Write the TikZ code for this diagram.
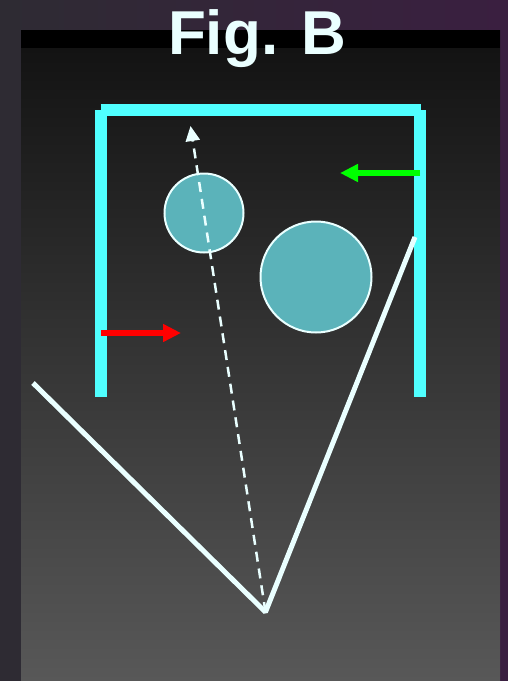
\documentclass[tikz,border=0pt]{standalone}
\usepackage{fontspec}
\setmainfont{Liberation Sans}
\usepackage{xcolor}
\usepackage{tikz}
\usetikzlibrary{arrows.meta}
\definecolor{bgPurple}{HTML}{3A1F40}
\definecolor{bgGrey}{HTML}{2E2B33}
\definecolor{panelTop}{HTML}{111111}
\definecolor{panelBot}{HTML}{585858}
\definecolor{wallCol}{HTML}{50FFFF}
\definecolor{ballFill}{HTML}{5BB3BA}
\definecolor{rayCol}{HTML}{EAFFFF}
\definecolor{pushRed}{HTML}{FF0000}
\definecolor{pushGreen}{HTML}{00FF00}

\begin{document}
\begin{tikzpicture}[
  x=1pt, y=-1pt,
  wall/.style={draw=wallCol, line width=12pt},
  ball/.style={circle, draw=rayCol, line width=2pt, fill=ballFill, inner sep=0pt},
  ray/.style={draw=rayCol, line width=5pt},
  traj/.style={draw=rayCol, line width=2.5pt, dash pattern=on 10pt off 7pt,
               -{Triangle[length=15pt,width=14pt]}},
  push/.style={line width=5.5pt, -{Triangle[length=18pt,width=17pt]}},
  title/.style={font=\fontsize{62}{62}\selectfont\bfseries, text=rayCol, anchor=base, inner sep=0pt},
]

% ---- Fondo ----
\useasboundingbox (0,0) rectangle (508,681);
\shade[left color=bgGrey, right color=bgPurple] (0,0) rectangle (508,681);
\shade[top color=panelTop, bottom color=panelBot] (21,30) rectangle (500,681);
\fill[black] (21,30) rectangle (500,48);

% ---- Titulo ----
\node[title] (titulo) at (257,54) {Fig. B};

% ---- Paredes ----
\coordinate (supIzq) at (101,110);
\coordinate (supDer) at (419.5,110);
\coordinate (infIzq) at (101,397);
\coordinate (infDer) at (419.5,397);
\draw[wall] ([xshift=-0.5pt]supIzq) -- ([xshift=1pt]supDer);
\draw[wall] (supIzq) -- (infIzq);
\draw[wall] (supDer) -- (infDer);

% ---- Bolas ----
\node[ball, minimum size=79pt]  (bolaChica)  at (204,213) {};
\node[ball, minimum size=111pt] (bolaGrande) at (316,277) {};

% ---- Rayos ----
\coordinate (rayoIzq) at (33,383);
\coordinate (vertice) at (265.5,612);
\coordinate (rayoDer) at (415,237);
\coordinate (puntaTraj) at (190.5,126);
\draw[ray, line join=bevel] (rayoIzq) -- (vertice) -- (rayoDer);
\draw[traj] (vertice) -- (puntaTraj);

% ---- Empujes ----
\coordinate (rojoIni) at (101,333);
\coordinate (rojoFin) at (181,333);
\coordinate (verdeIni) at (420,173);
\coordinate (verdeFin) at (340,173);
\draw[push, draw=pushRed, fill=pushRed] (rojoIni) -- (rojoFin);
\draw[push, draw=pushGreen, fill=pushGreen] (verdeIni) -- (verdeFin);

\end{tikzpicture}
\end{document}
